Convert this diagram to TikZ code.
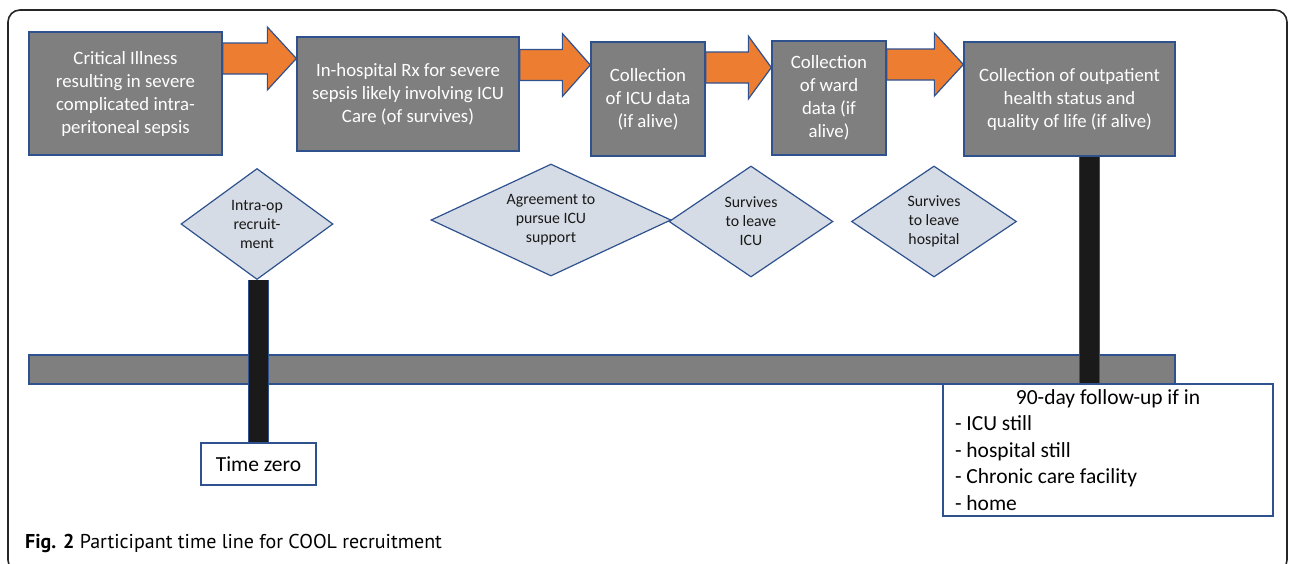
\documentclass[tikz,border=0pt]{standalone}
\usepackage{fontspec}
\setmainfont{Carlito}
\newfontfamily\capfont{PT Sans}
\usetikzlibrary{shapes.geometric,calc}

\definecolor{boxgray}{HTML}{7F7F7F}
\definecolor{edgeblue}{HTML}{2F528F}
\definecolor{flowor}{HTML}{ED7D31}
\definecolor{decfill}{HTML}{D6DCE5}
\definecolor{stemblack}{HTML}{1A1A1A}

% orange block arrow: from box, to box, height of its axis, head length
\newcommand\flowarrow[4]{%
  \draw [flow] ($(#1.east |- 0,#3)+(0,-15.5)$) -- ($(#2.west |- 0,#3)+(-#4,-15.5)$)
    -- ($(#2.west |- 0,#3)+(-#4,-31.5)$) -- (#2.west |- 0,#3)
    -- ($(#2.west |- 0,#3)+(-#4,31.5)$) -- ($(#2.west |- 0,#3)+(-#4,15.5)$)
    -- ($(#1.east |- 0,#3)+(0,15.5)$) -- cycle;}

\begin{document}
\begin{tikzpicture}[x=1pt, y=-1pt,
  phase/.style={draw=edgeblue, line width=1.3, fill=boxgray, text=white, align=center,
    inner sep=0, font=\fontsize{18.8}{23}\selectfont},
  flow/.style={draw=edgeblue, line width=1.2, fill=flowor},
  decision/.style={diamond, draw=edgeblue, line width=1.2, fill=decfill, text=black!90,
    inner sep=0, align=center, font=\fontsize{15.8}{19}\selectfont},
  blackstem/.style={draw=edgeblue, line width=1, double=stemblack, double distance=19},
  notebox/.style={draw=edgeblue, line width=1.3, fill=white, text=black, inner sep=0,
    font=\fontsize{21.5}{26.5}\selectfont}]
  \useasboundingbox (0,0) rectangle (1293,563);
  \draw [line width=1.6, color=black!85, rounded corners=12] (8,10) rectangle (1287,572);

  % the time line itself
  \node [draw=edgeblue, line width=1.3, fill=boxgray, minimum width=1146, minimum height=29,
    inner sep=0] (line) at (602,369.5) {};

  % stages
  \node [phase, minimum width=193, minimum height=123] (illness) at (125.5,93.5)
    {Critical Illness\\resulting in severe\\complicated intra-\\peritoneal sepsis};
  \node [phase, minimum width=222, minimum height=114] (inhosp) at (408,94)
    {In-hospital Rx for severe\\sepsis likely involving ICU\\Care (of survives)};
  \node [phase, minimum width=114, minimum height=114] (icu) at (648,99)
    {Collection\\of ICU data\\(if alive)};
  \node [phase, minimum width=114, minimum height=114] (ward) at (829,98)
    {Collection\\of ward\\data (if\\alive)};
  \node [phase, minimum width=211, minimum height=114] (outpat) at (1069.5,99)
    {Collection of outpatient\\health status and\\quality of life (if alive)};

  \flowarrow{illness}{inhosp}{58.5}{29}
  \flowarrow{inhosp}{icu}{65}{28}
  \flowarrow{icu}{ward}{67.5}{23}
  \flowarrow{ward}{outpat}{64.5}{29}

  % events between the stages
  \node [decision, minimum width=152, minimum height=111, aspect=1.37] (recruit) at (257,224)
    {Intra-op\\recruit-\\ment};
  \node [decision, minimum width=240, minimum height=112, aspect=2.14] (agree) at (551,220)
    {Agreement to\\pursue ICU\\support};
  \node [decision, minimum width=164, minimum height=111, aspect=1.48] (leaveicu) at (751,221.5)
    {Survives\\to leave\\ICU};
  \node [decision, minimum width=165, minimum height=111, aspect=1.49] (leavehosp) at (934,221.5)
    {Survives\\to leave\\hospital};

  % markers on the time line
  \node [notebox, minimum width=115, minimum height=42] (zero) at (258.5,464) {Time zero};
  \node [notebox, minimum width=330, minimum height=132] (followup) at (1108,450)
    {\parbox{306pt}{\centering 90-day follow-up if in\par\raggedright
      - ICU still\\- hospital still\\- Chronic care facility\\- home}};
  \draw [blackstem] (zero.north |- recruit.south) -- (zero.north);
  \draw [blackstem] ([xshift=19.5]outpat.south) -- ([xshift=19.5]outpat.south |- followup.north);

  \node [anchor=west, inner sep=0, font=\capfont\fontsize{20}{24}\selectfont] (caption) at (25,543)
    {\textbf{Fig. 2} Participant time line for COOL recruitment};
\end{tikzpicture}
\end{document}
